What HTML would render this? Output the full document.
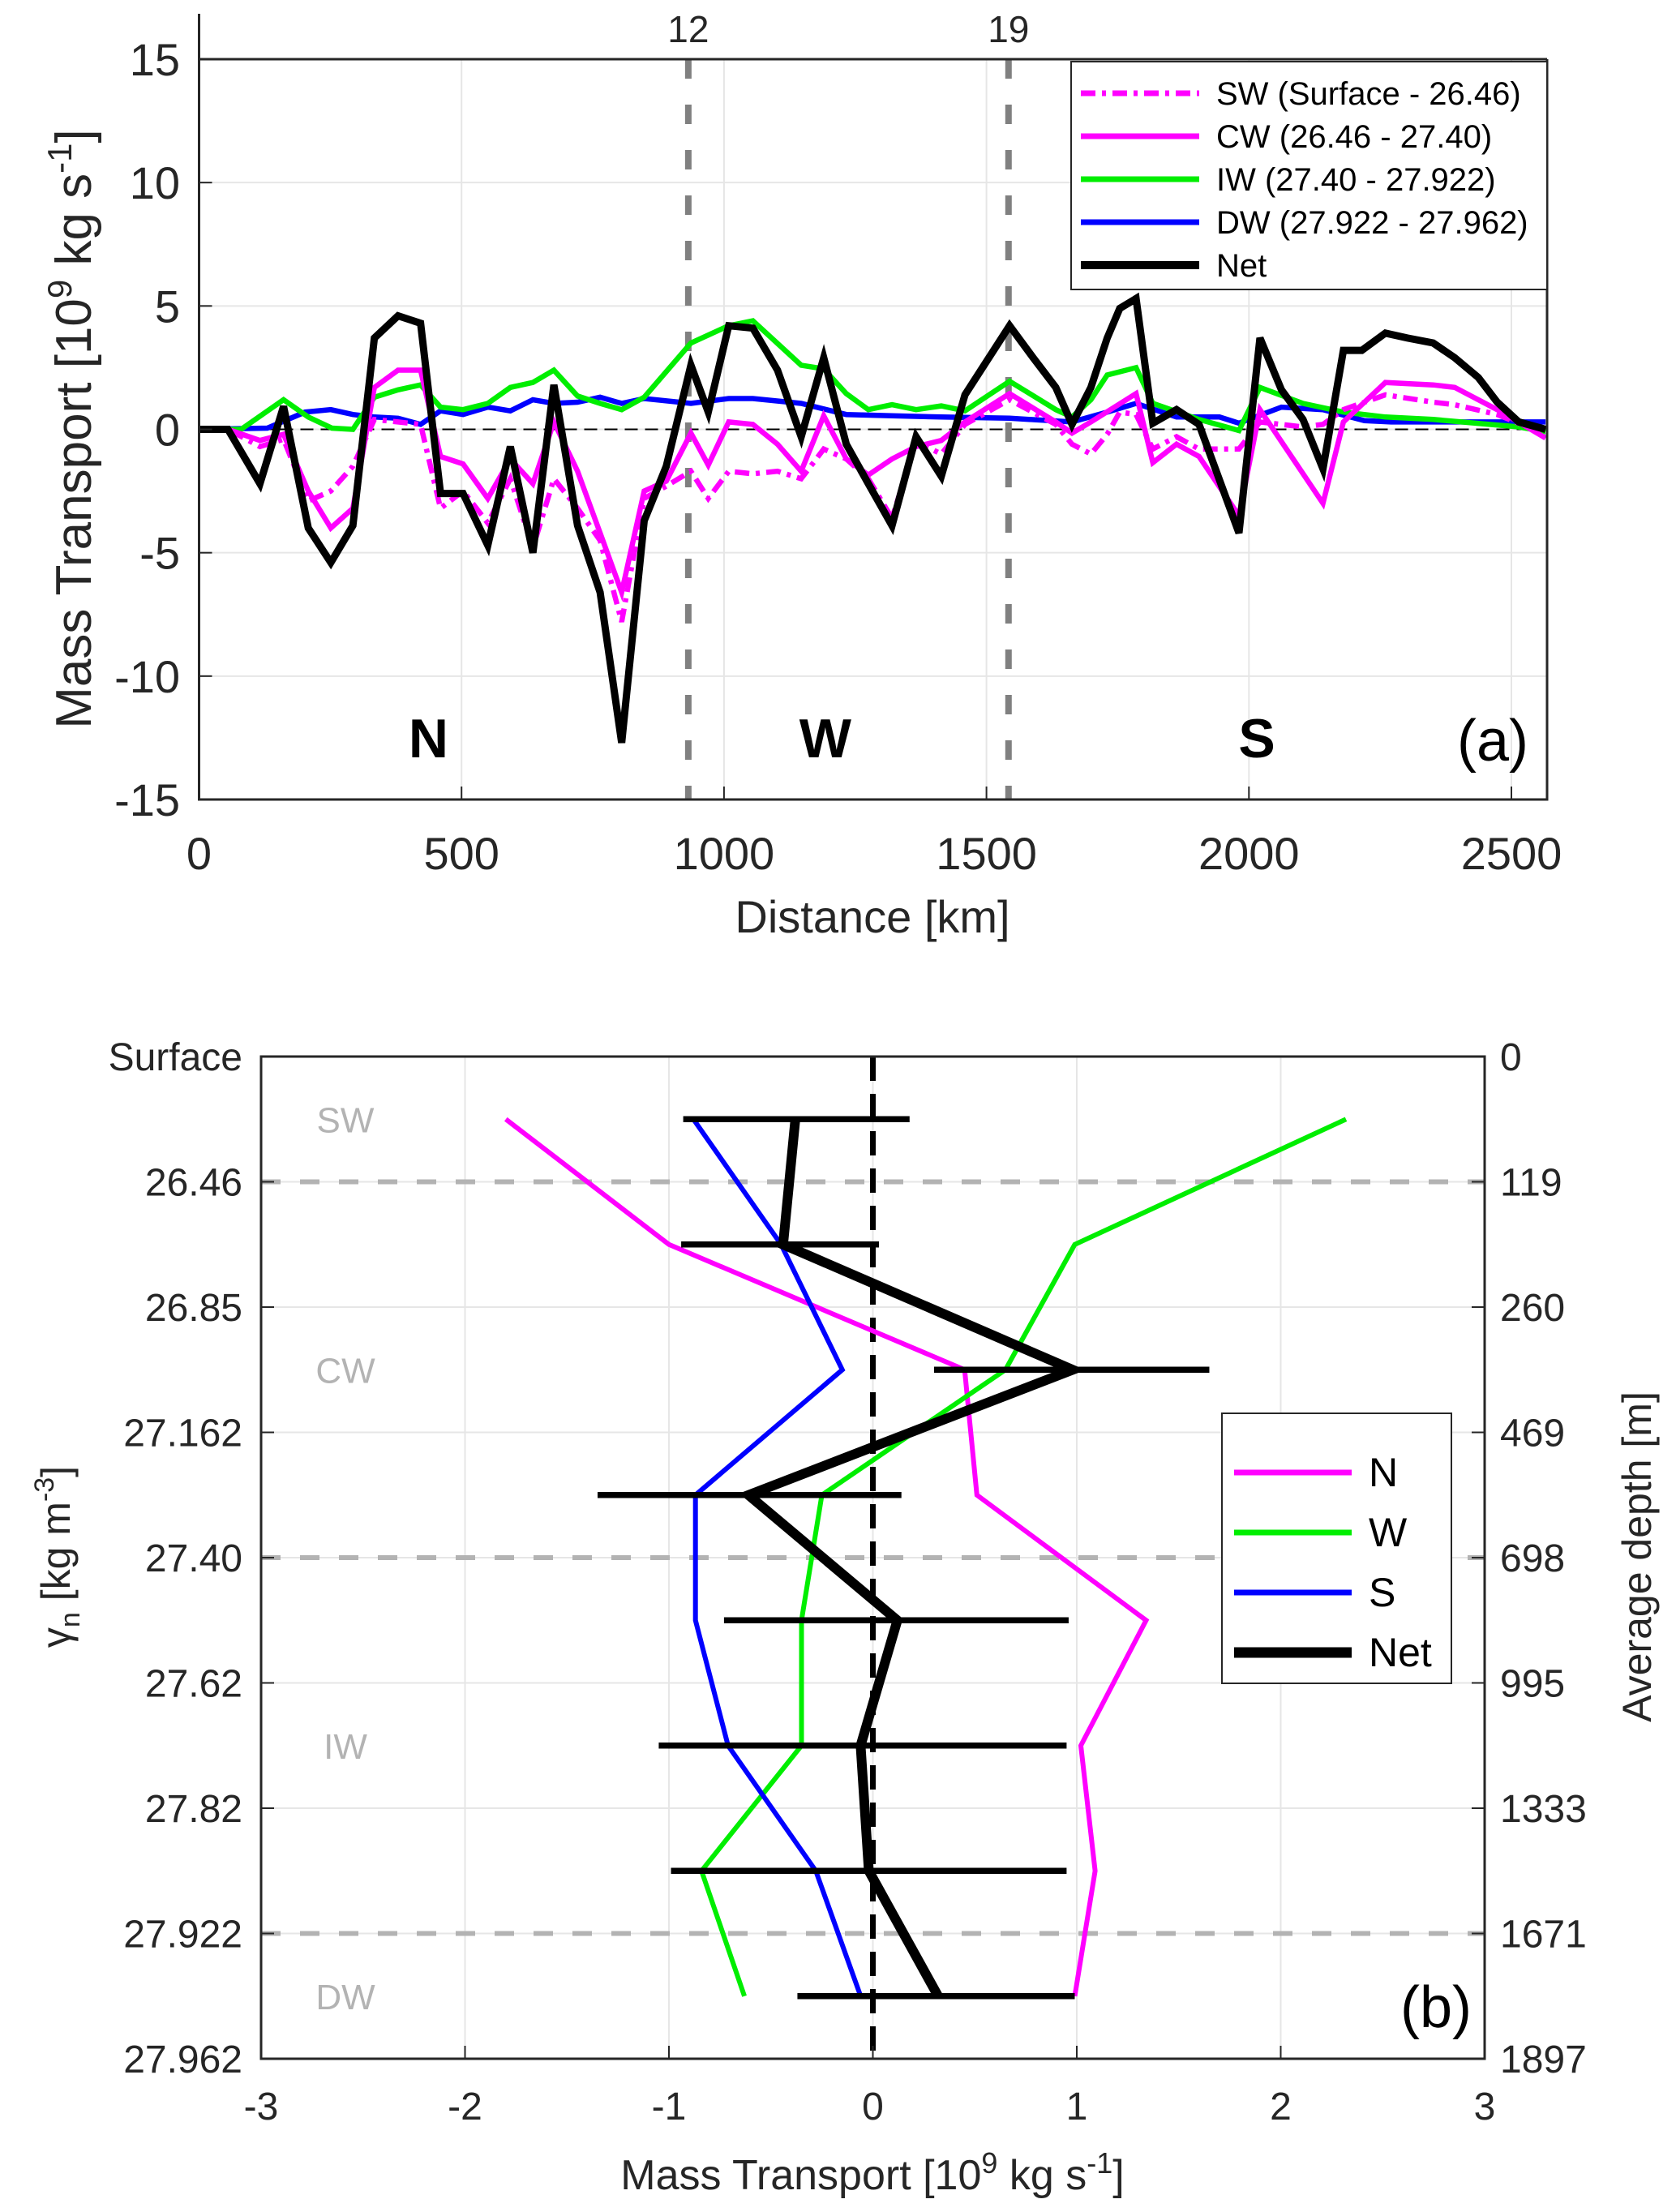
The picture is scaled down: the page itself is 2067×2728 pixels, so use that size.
<!DOCTYPE html>
<html><head><meta charset="utf-8"><style>
html,body{margin:0;padding:0;background:#fff;}
svg{display:block;font-family:"Liberation Sans",Arial,sans-serif;}
</style></head><body>
<svg id="fig" width="2067" height="2728" viewBox="0 0 2067 2728" xmlns="http://www.w3.org/2000/svg">
<g id="pa"></g>
<g id="pb"></g>
</svg>
<script>
// ---------- Panel (a) data ----------
const netKm=[0,55,116,161,208,251,293,334,379,422,460,503,550,593,636,676,721,764,805,848,890,937,970,1009,1055,1102,1147,1190,1233,1275,1320,1366,1414,1459,1544,1589,1632,1663,1699,1730,1754,1785,1817,1862,1905,1981,2021,2062,2103,2141,2180,2215,2260,2302,2351,2392,2437,2473,2514,2565];
const netVal=[0,0,-2.2,0.93,-4.0,-5.4,-3.9,3.7,4.6,4.3,-2.6,-2.6,-4.7,-0.7,-5.0,1.8,-3.9,-6.6,-12.7,-3.7,-1.5,2.6,0.7,4.2,4.1,2.4,-0.3,2.9,-0.6,-2.2,-3.9,-0.3,-1.9,1.4,4.2,2.9,1.7,0.2,1.7,3.7,4.9,5.3,0.25,0.8,0.2,-4.2,3.7,1.6,0.4,-1.6,3.2,3.2,3.9,3.7,3.5,2.9,2.1,1.1,0.3,0.0];
const iwKm=[0,80,161,208,253,293,334,379,422,460,503,550,593,636,676,721,764,805,848,937,1009,1055,1147,1190,1233,1275,1320,1366,1414,1459,1544,1632,1663,1699,1730,1785,1817,1905,1981,2021,2103,2180,2260,2351,2514,2565];
const iwVal=[0,0,1.2,0.5,0.05,0,1.3,1.6,1.8,0.9,0.8,1.05,1.7,1.9,2.4,1.35,1.05,0.8,1.3,3.5,4.2,4.4,2.6,2.45,1.45,0.8,1.0,0.8,0.95,0.75,1.95,0.8,0.5,1.2,2.2,2.5,1.05,0.4,-0.05,1.7,1.05,0.7,0.5,0.4,0.1,-0.1];
const dwKm=[0,130,202,251,293,334,379,422,460,503,550,593,636,676,721,764,805,848,937,1009,1055,1147,1233,1320,1414,1544,1663,1730,1785,1862,1944,1981,2062,2141,2220,2271,2565];
const dwVal=[0,0.05,0.7,0.8,0.6,0.5,0.45,0.2,0.75,0.6,0.9,0.75,1.2,1.05,1.1,1.3,1.05,1.25,1.05,1.25,1.25,1.05,0.6,0.55,0.5,0.45,0.3,0.7,1.05,0.5,0.5,0.25,0.9,0.8,0.35,0.3,0.3];
const cwKm=[0,55,116,161,208,251,293,334,379,422,460,503,550,593,636,676,721,764,805,848,890,937,970,1009,1055,1102,1147,1190,1233,1275,1320,1366,1414,1459,1544,1632,1663,1699,1785,1817,1862,1905,1981,2021,2141,2180,2260,2351,2392,2473,2565];
const cwVal=[0,0,-0.45,-0.2,-2.5,-4.0,-3.2,1.7,2.4,2.4,-1.1,-1.4,-2.8,-1.2,-2.2,0.3,-1.7,-4.2,-6.6,-2.5,-2.1,-0.15,-1.45,0.3,0.2,-0.6,-1.7,0.55,-1.2,-1.85,-1.2,-0.7,-0.45,0.3,1.45,0.3,-0.15,0.3,1.45,-1.35,-0.6,-1.1,-3.5,0.8,-3.0,0.3,1.9,1.8,1.7,0.8,-0.35];
const swKm=[0,55,116,161,208,251,293,334,379,422,460,503,550,593,636,676,721,764,805,848,890,937,970,1009,1055,1102,1147,1190,1233,1275,1320,1366,1414,1459,1544,1632,1663,1699,1730,1754,1785,1817,1862,1905,1981,2021,2103,2141,2180,2260,2351,2392,2473,2565];
const swVal=[0,0,-0.7,-0.4,-2.9,-2.5,-1.5,0.4,0.3,0.2,-3.2,-2.5,-3.8,-2.0,-4.8,-2.0,-3.2,-4.5,-7.8,-2.8,-2.3,-1.7,-2.8,-1.7,-1.8,-1.7,-2.0,-0.8,-1.2,-2.0,-3.6,-0.5,-1.0,0.2,1.2,0.2,-0.6,-1.0,-0.2,0.7,0.6,-0.8,-0.3,-0.8,-0.8,0.3,0.1,0.2,0.8,1.4,1.1,1.0,0.6,-0.2];
const aXTicks=[0,500,1000,1500,2000,2500];
const aYTicks=[-15,-10,-5,0,5,10,15];
const aSections=[932,1542];
const aSectionLabels=["12","19"];
const aRegionKm=[437,1193,2015];
const aRegionLabels=["N","W","S"];
const aLegendLabels=["SW (Surface - 26.46)","CW (26.46 - 27.40)","IW (27.40 - 27.922)","DW (27.922 - 27.962)","Net"];

// ---------- Panel (b) data ----------
const bLevelLabels=["Surface","26.46","26.85","27.162","27.40","27.62","27.82","27.922","27.962"];
const bDepthLabels=["0","119","260","469","698","995","1333","1671","1897"];
const bXTicks=[-3,-2,-1,0,1,2,3];
const bMid=[0.5,1.5,2.5,3.5,4.5,5.5,6.5,7.5];
const nVal=[-1.80,-1.00,0.45,0.51,1.34,1.02,1.09,0.99];
const wVal=[2.32,0.99,0.65,-0.25,-0.35,-0.35,-0.84,-0.63];
const sVal=[-0.88,-0.45,-0.15,-0.87,-0.87,-0.71,-0.28,-0.06];
const netB=[-0.38,-0.44,0.98,-0.61,0.12,-0.06,-0.02,0.32];
const errLo=[-0.93,-0.94,0.30,-1.35,-0.73,-1.05,-0.99,-0.37];
const errHi=[0.18,0.03,1.65,0.14,0.96,0.95,0.95,0.99];
const waterMass=["SW","CW","IW","DW"];
const waterMassMid=[0.5,2.5,5.5,7.5];
const waterBounds=[1,4,7];

const NS="http://www.w3.org/2000/svg";
function mk(parent,tag,attrs,text){const e=document.createElementNS(NS,tag);for(const k in attrs)e.setAttribute(k,attrs[k]);if(text!==undefined)e.textContent=text;parent.appendChild(e);return e;}

// ===== Panel a =====
const A=document.getElementById('pa');
const aL=245.5,aR=1908,aT=73,aB=986;
const ax=k=>aL+k*0.6474;
const ay=v=>aT+(15-v)*(aB-aT)/30;
aXTicks.forEach(t=>{if(t>0){const g=mk(A,'line',{x1:ax(t),x2:ax(t),y1:aT,y2:aB,stroke:'#e6e6e6','stroke-width':2});

}});
aYTicks.forEach(t=>{if(t>-15&&t<15){const g=mk(A,'line',{x1:aL,x2:aR,y1:ay(t),y2:ay(t),stroke:'#e6e6e6','stroke-width':2});

}});
{const z=mk(A,'line',{x1:aL,x2:aR,y1:ay(0),y2:ay(0),stroke:'#000','stroke-width':2,'stroke-dasharray':'16,9'});

}
aSections.forEach((k,i)=>{const l=mk(A,'line',{x1:ax(k),x2:ax(k),y1:aT,y2:aB,stroke:'#808080','stroke-width':8,'stroke-dasharray':'24,32'});


const t=mk(A,'text',{x:ax(k),y:52,'font-size':46,'text-anchor':'middle',fill:'#262626'},aSectionLabels[i]);

});
function series(parent,xs,vs,fx,fy,color,w,dash,name){
  const d=xs.map((x,i)=>(i?'L':'M')+fx(x).toFixed(1)+','+fy(vs[i]).toFixed(1)).join(' ');
  const p=mk(parent,'path',{d:d,fill:'none',stroke:color,'stroke-width':w,'stroke-linejoin':'miter','stroke-linecap':'butt'});
  if(dash)p.setAttribute('stroke-dasharray',dash);
  
  
  return p;}
series(A,dwKm,dwVal,ax,ay,'#0000ff',6.5,null,'dw-line');
series(A,iwKm,iwVal,ax,ay,'#00ee00',6.5,null,'iw-line');
series(A,swKm,swVal,ax,ay,'#ff00ff',6.5,'18,8,5,8','sw-line');
series(A,cwKm,cwVal,ax,ay,'#ff00ff',6.5,null,'cw-line');
series(A,netKm,netVal,ax,ay,'#000',9,null,'net-line');
{const s=mk(A,'path',{d:`M${aL},17 L${aL},${aB} L${aR},${aB} L${aR},${aT} M${aL},${aT} L${aR},${aT}`,fill:'none',stroke:'#262626','stroke-width':3});

}
aXTicks.forEach(t=>{const l=mk(A,'text',{x:ax(t),y:1072,'font-size':56,'text-anchor':'middle',fill:'#262626'},String(t));


mk(A,'line',{x1:ax(t),x2:ax(t),y1:aB,y2:aB-16,stroke:'#262626','stroke-width':2});});
aYTicks.forEach(t=>{const l=mk(A,'text',{x:222,y:ay(t)+20,'font-size':56,'text-anchor':'end',fill:'#262626'},String(t));


mk(A,'line',{x1:aL,x2:aL+16,y1:ay(t),y2:ay(t),stroke:'#262626','stroke-width':2});});
{const t=mk(A,'text',{x:1076,y:1150,'font-size':56,'text-anchor':'middle',fill:'#262626'},'Distance [km]');

}
{const t=mk(A,'text',{transform:'translate(112,529) rotate(-90)','font-size':62,'text-anchor':'middle',fill:'#262626'});
t.innerHTML='Mass Transport [10<tspan dy="-24" font-size="42">9</tspan><tspan dy="24"> kg s</tspan><tspan dy="-24" font-size="42">-1</tspan><tspan dy="24">]</tspan>';

}
aRegionKm.forEach((k,i)=>{const t=mk(A,'text',{x:ax(k),y:934,'font-size':68,'font-weight':'bold','text-anchor':'middle',fill:'#000'},aRegionLabels[i]);

});
{const t=mk(A,'text',{x:1885,y:938,'font-size':72,'text-anchor':'end',fill:'#000'},'(a)');

}
{const lg=mk(A,'g',{});


mk(lg,'rect',{x:1321,y:76,width:587,height:281,fill:'#fff',stroke:'#262626','stroke-width':2});
const cols=['#ff00ff','#ff00ff','#00ee00','#0000ff','#000'];
const ws=[7,7,7,7,10];const dashes=['18,8,5,8',null,null,null,null];
aLegendLabels.forEach((s,i)=>{const y=115+i*53;
const l=mk(lg,'line',{x1:1333,x2:1479,y1:y,y2:y,stroke:cols[i],'stroke-width':ws[i]});
if(dashes[i])l.setAttribute('stroke-dasharray',dashes[i]);


const t=mk(lg,'text',{x:1500,y:y+14,'font-size':40,fill:'#000'},s);

});}

// ===== Panel b =====
const B=document.getElementById('pb');
const bL=322,bR=1831,bT=1303,bBt=2539;
const bx=v=>bL+(v+3)*(bR-bL)/6;
const by=l=>bT+l*(bBt-bT)/8;
bXTicks.forEach(t=>{if(t>-3&&t<3){const g=mk(B,'line',{x1:bx(t),x2:bx(t),y1:bT,y2:bBt,stroke:'#e6e6e6','stroke-width':2});

}});
bLevelLabels.forEach((s,i)=>{if(i>0&&i<8){const g=mk(B,'line',{x1:bL,x2:bR,y1:by(i),y2:by(i),stroke:'#e6e6e6','stroke-width':2});

}});
waterBounds.forEach(l=>{const g=mk(B,'line',{x1:bL,x2:bR,y1:by(l),y2:by(l),stroke:'#b3b3b3','stroke-width':6,'stroke-dasharray':'24,24'});

});
waterMass.forEach((s,i)=>{const t=mk(B,'text',{x:426,y:by(waterMassMid[i])+16,'font-size':44,'text-anchor':'middle',fill:'#b3b3b3'},s);

});
{const z=mk(B,'line',{x1:bx(0),x2:bx(0),y1:bT,y2:bBt,stroke:'#000','stroke-width':7,'stroke-dasharray':'30,16'});

}
const fyB=l=>by(l);
series(B,nVal,bMid,bx,fyB,'#ff00ff',6,null,'n-profile');
series(B,wVal,bMid,bx,fyB,'#00ee00',6,null,'w-profile');
series(B,sVal,bMid,bx,fyB,'#0000ff',6,null,'s-profile');
series(B,netB,bMid,bx,fyB,'#000',12,null,'net-profile');
bMid.forEach((l,i)=>{const e=mk(B,'line',{x1:bx(errLo[i]),x2:bx(errHi[i]),y1:by(l),y2:by(l),stroke:'#000','stroke-width':7.5});

});
{const s=mk(B,'rect',{x:bL,y:bT,width:bR-bL,height:bBt-bT,fill:'none',stroke:'#262626','stroke-width':3});

}
bXTicks.forEach(t=>{const l=mk(B,'text',{x:bx(t),y:2614,'font-size':48,'text-anchor':'middle',fill:'#262626'},String(t));


mk(B,'line',{x1:bx(t),x2:bx(t),y1:bBt,y2:bBt-16,stroke:'#262626','stroke-width':2});});
bLevelLabels.forEach((s,i)=>{const l=mk(B,'text',{x:299,y:by(i)+17,'font-size':48,'text-anchor':'end',fill:'#262626'},s);


const r=mk(B,'text',{x:1850,y:by(i)+17,'font-size':48,'text-anchor':'start',fill:'#262626'},bDepthLabels[i]);


mk(B,'line',{x1:bL,x2:bL+16,y1:by(i),y2:by(i),stroke:'#262626','stroke-width':2});
mk(B,'line',{x1:bR,x2:bR-16,y1:by(i),y2:by(i),stroke:'#262626','stroke-width':2});});
{const t=mk(B,'text',{x:1076,y:2700,'font-size':52,'text-anchor':'middle',fill:'#262626'});
t.innerHTML='Mass Transport [10<tspan dy="-20" font-size="36">9</tspan><tspan dy="20"> kg s</tspan><tspan dy="-20" font-size="36">-1</tspan><tspan dy="20">]</tspan>';

}
{const t=mk(B,'text',{transform:'translate(86,1920) rotate(-90)','font-size':50,'text-anchor':'middle',fill:'#262626'});
t.innerHTML='γ<tspan dy="12" font-size="34">n</tspan><tspan dy="-12"> [kg m</tspan><tspan dy="-20" font-size="34">-3</tspan><tspan dy="20">]</tspan>';

}
{const t=mk(B,'text',{transform:'translate(2036,1920) rotate(-90)','font-size':50,'text-anchor':'middle',fill:'#262626'},'Average depth [m]');

}
{const t=mk(B,'text',{x:1815,y:2500,'font-size':72,'text-anchor':'end',fill:'#000'},'(b)');

}
{const lg=mk(B,'g',{});


mk(lg,'rect',{x:1507,y:1743,width:283,height:333,fill:'#fff',stroke:'#262626','stroke-width':2});
const labs=['N','W','S','Net'];const cols=['#ff00ff','#00ee00','#0000ff','#000'];const ws=[7,7,7,13];
labs.forEach((s,i)=>{const y=1816+i*74;
const l=mk(lg,'line',{x1:1522,x2:1667,y1:y,y2:y,stroke:cols[i],'stroke-width':ws[i]});


const t=mk(lg,'text',{x:1688,y:y+17,'font-size':50,fill:'#000'},s);

});}
</script>
</body></html>
